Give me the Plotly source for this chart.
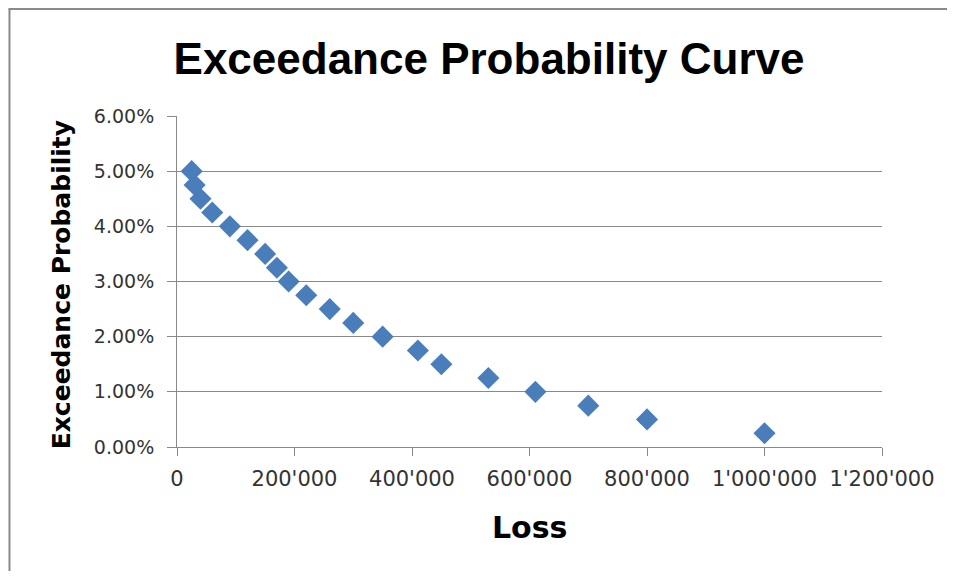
import plotly.graph_objects as go

# Data
loss = [25000, 30000, 40000, 60000, 90000, 120000, 150000, 170000, 190000, 220000,
        260000, 300000, 350000, 410000, 450000, 530000, 610000, 700000, 800000, 1000000]
exceedance_prob = [0.05, 0.0475, 0.045, 0.0425, 0.04, 0.0375, 0.035, 0.0325, 0.03, 0.0275,
                   0.025, 0.0225, 0.02, 0.0175, 0.015, 0.0125, 0.01, 0.0075, 0.005, 0.0025]

title_text = "Exceedance Probability Curve"
x_title = "Loss"
y_title = "Exceedance Probability"

# The page body has an 8px margin, so the figure is offset by 8px.
OFF = 8
W, H = 939, 563
L, R, T, B = 169, 63, 108, 124
pw, ph = W - L - R, H - T - B

def px_x(x):  # page pixel -> paper coordinate
    return (x - OFF - L) / pw

def px_y(y):
    return (H - B - (y - OFF)) / ph

fig = go.Figure()
fig.add_trace(go.Scatter(
    x=loss, y=exceedance_prob, mode="markers",
    marker=dict(symbol="diamond", size=17, color="#4a7ebb", line=dict(width=0)),
    showlegend=False,
))

fig.update_layout(
    width=W, height=H,
    margin=dict(l=L, r=R, t=T, b=B, pad=0),
    paper_bgcolor="white", plot_bgcolor="white",
    separators=".'",
    title=dict(text=title_text, x=(489 - OFF) / W, xref="container", xanchor="center",
               y=1 - (59 - OFF) / H, yref="container", yanchor="middle",
               font=dict(family="Liberation Sans Narrow, Liberation Sans", size=44,
                         color="black", weight="bold")),
    xaxis=dict(range=[0, 1200000], dtick=200000, tick0=0, tickformat=",d",
               showgrid=False, zeroline=False, showline=True, linecolor="#898989",
               linewidth=1, ticks="outside", ticklen=8, tickcolor="#898989",
               tickfont=dict(family="DejaVu Sans", size=21, color="#333333"),
               ticklabelstandoff=5, fixedrange=True),
    yaxis=dict(range=[0, 0.06], dtick=0.01, tick0=0, tickformat=".2%",
               showgrid=True, gridcolor="#898989", gridwidth=1, zeroline=False,
               showline=True, linecolor="#898989", linewidth=1,
               ticks="outside", ticklen=9, tickcolor="#898989",
               tickfont=dict(family="DejaVu Sans", size=19, color="#333333"),
               ticklabelstandoff=9, fixedrange=True),
    annotations=[
        dict(text=y_title, xref="paper", yref="paper", x=px_x(61), y=px_y(285),
             xanchor="center", yanchor="middle", textangle=-90, showarrow=False,
             font=dict(family="DejaVu Sans", size=25, color="black", weight="bold")),
        dict(text=x_title, xref="paper", yref="paper", x=px_x(530), y=px_y(527),
             xanchor="center", yanchor="middle", showarrow=False,
             font=dict(family="DejaVu Sans", size=30, color="black", weight="bold")),
    ],
    shapes=[
        dict(type="line", xref="paper", yref="paper", x0=px_x(9), x1=px_x(9),
             y0=px_y(9), y1=px_y(620), line=dict(color="#8a8a8a", width=2)),
        dict(type="line", xref="paper", yref="paper", x0=px_x(8), x1=px_x(1000),
             y0=px_y(9), y1=px_y(9), line=dict(color="#8a8a8a", width=2)),
    ],
)

fig.write_html("out.html", config={"displayModeBar": False})
